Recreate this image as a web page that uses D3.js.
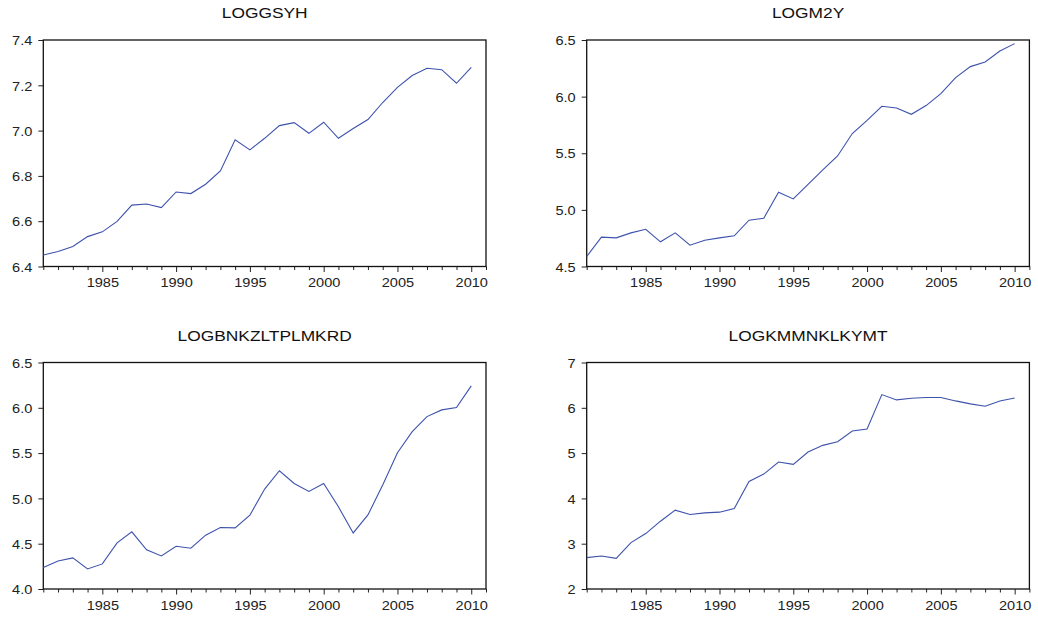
<!DOCTYPE html>
<html>
<head>
<meta charset="utf-8">
<script src="https://cdn.jsdelivr.net/npm/d3@7"></script>
<style>
  body { margin: 0; background: #fff; }
  svg { display: block; font-family: "Liberation Sans", Arial, sans-serif; }
</style>
</head>
<body>
<svg id="chart" width="1038" height="618"></svg>
<script>
const years = d3.range(1981, 2011);

const loggsyh = [6.451, 6.466, 6.488, 6.532, 6.553, 6.599, 6.671, 6.676, 6.660, 6.729,
    6.722, 6.763, 6.822, 6.959, 6.915, 6.966, 7.022, 7.035, 6.988, 7.037,
    6.966, 7.009, 7.049, 7.124, 7.191, 7.243, 7.275, 7.269, 7.209, 7.279];

const logm2y = [4.588, 4.759, 4.753, 4.797, 4.829, 4.718, 4.797, 4.688, 4.732, 4.753,
    4.771, 4.909, 4.926, 5.156, 5.097, 5.226, 5.353, 5.476, 5.674, 5.791,
    5.915, 5.900, 5.844, 5.921, 6.026, 6.168, 6.265, 6.306, 6.403, 6.468];

const logbnk = [4.236, 4.310, 4.343, 4.221, 4.277, 4.509, 4.631, 4.432, 4.365, 4.472,
    4.450, 4.594, 4.679, 4.675, 4.815, 5.103, 5.305, 5.165, 5.077, 5.165,
    4.907, 4.619, 4.818, 5.147, 5.504, 5.737, 5.903, 5.977, 6.003, 6.242];

const logkmm = [2.693, 2.730, 2.678, 3.025, 3.224, 3.497, 3.740, 3.644, 3.681, 3.696,
    3.777, 4.375, 4.537, 4.802, 4.751, 5.024, 5.171, 5.252, 5.488, 5.532,
    6.292, 6.174, 6.211, 6.226, 6.226, 6.152, 6.086, 6.034, 6.152, 6.218];

const xTickLabels = [1985, 1990, 1995, 2000, 2005, 2010];

const panels = [
    { title: "LOGGSYH", values: loggsyh, domain: [6.4, 7.4], ticks: [6.4, 6.6, 6.8, 7.0, 7.2, 7.4], fmt: ".1f", left: 43.3, top: 40 },
    { title: "LOGM2Y", values: logm2y, domain: [4.5, 6.5], ticks: [4.5, 5.0, 5.5, 6.0, 6.5], fmt: ".1f", left: 586.7, top: 40 },
    { title: "LOGBNKZLTPLMKRD", values: logbnk, domain: [4.0, 6.5], ticks: [4.0, 4.5, 5.0, 5.5, 6.0, 6.5], fmt: ".1f", left: 43.3, top: 362.5 },
    { title: "LOGKMMNKLKYMT", values: logkmm, domain: [2, 7], ticks: [2, 3, 4, 5, 6, 7], fmt: "d", left: 586.7, top: 362.5 }
];

const plotW = 442.7, plotH = 226.5;
const stretch = 1.12; // the source text is a bit wider than the font
const svg = d3.select("#chart");

panels.forEach(p => {
    const g = svg.append("g").attr("transform", `translate(${p.left},${p.top})`);

    const x = d3.scaleLinear().domain([1981, 2011]).range([0, plotW]);
    const y = d3.scaleLinear().domain(p.domain).range([plotH, 0]);

    // year ticks, longer every 5 years
    const xAxis = g.append("g").attr("transform", `translate(0,${plotH})`)
        .call(d3.axisBottom(x).tickValues(d3.range(1981, 2012)).tickSize(4).tickFormat(""));
    xAxis.selectAll(".tick line").attr("y2", d => d % 5 === 0 ? 5.5 : 3.5);
    xAxis.select(".domain").remove();

    const xLab = g.append("g").attr("transform", `translate(0,${plotH})`)
        .call(d3.axisBottom(x).tickValues(xTickLabels).tickSize(0).tickFormat(d3.format("d")));
    xLab.select(".domain").remove();
    xLab.selectAll(".tick text")
        .attr("y", 0).attr("dy", null)
        .attr("transform", `translate(0,20.8) scale(${stretch},1)`);

    const yAxis = g.append("g")
        .call(d3.axisLeft(y).tickValues(p.ticks).tickSize(5).tickFormat(d3.format(p.fmt)));
    yAxis.select(".domain").remove();
    yAxis.selectAll(".tick text")
        .attr("x", 0).attr("dy", null)
        .attr("transform", `translate(-11,4.7) scale(${stretch},1)`);

    g.selectAll(".tick line").attr("stroke", "#222").attr("stroke-width", 1);
    g.selectAll(".tick text").attr("fill", "#222").style("font-size", "13px")
        .style("font-family", "'Liberation Sans', Arial, sans-serif");

    g.append("rect")
        .attr("x", 0).attr("y", 0)
        .attr("width", plotW).attr("height", plotH)
        .attr("fill", "none").attr("stroke", "#111").attr("stroke-width", 1.3);

    const line = d3.line()
        .x((d, i) => x(years[i]))
        .y(d => y(d));

    g.append("path")
        .datum(p.values)
        .attr("d", line)
        .attr("fill", "none")
        .attr("stroke", "#3d52ad")
        .attr("stroke-width", 1.1);

    g.append("text")
        .attr("transform", `translate(${plotW / 2},-22) scale(${stretch},1)`)
        .attr("text-anchor", "middle")
        .attr("fill", "#111")
        .style("font-size", "15.5px")
        .text(p.title);
});
</script>
</body>
</html>
